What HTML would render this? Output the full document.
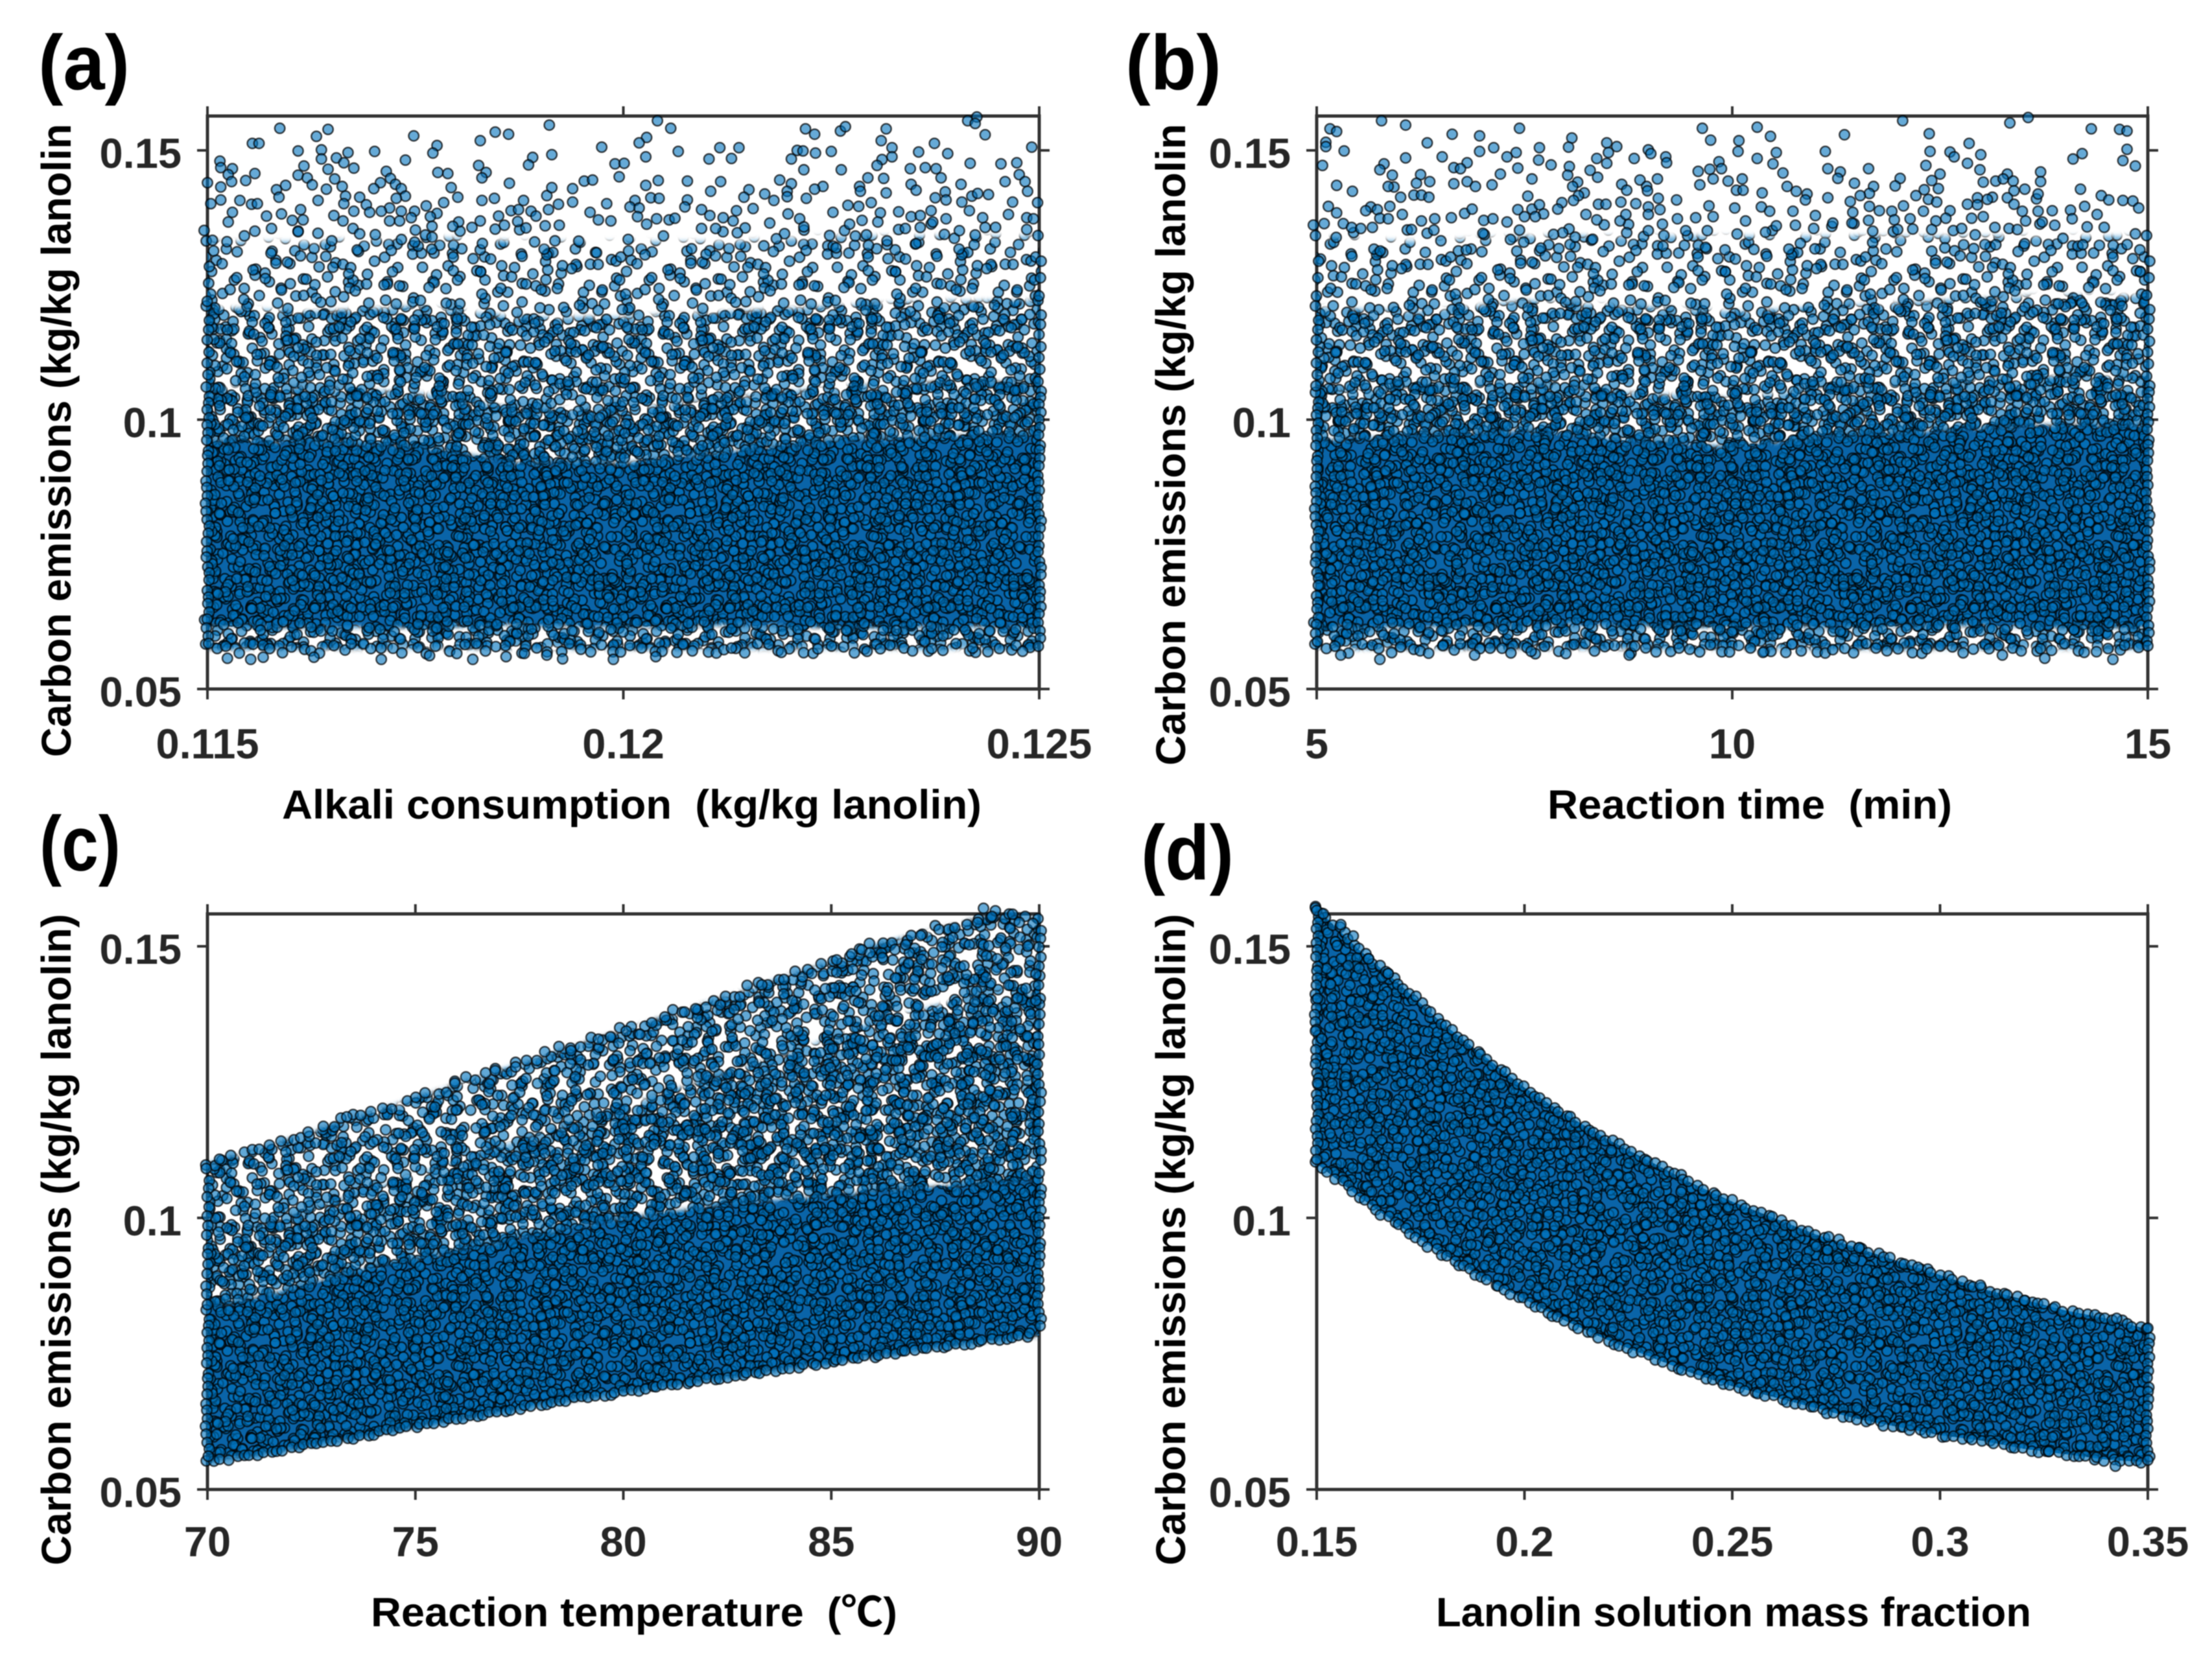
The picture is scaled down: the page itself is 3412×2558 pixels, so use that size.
<!DOCTYPE html>
<html lang="en">
<head>
<meta charset="utf-8">
<title>Carbon emissions sensitivity scatter plots</title>
<style>
html,body{margin:0;padding:0;background:#fff;width:3412px;height:2558px;overflow:hidden}
svg{display:block;filter:blur(0.9px)}
text{font-family:"Liberation Sans","Noto Sans CJK SC",sans-serif;font-weight:700}
</style>
</head>
<body>
<svg id="figure" xmlns="http://www.w3.org/2000/svg" width="3412" height="2558" viewBox="0 0 3412 2558">
<rect width="3412" height="2558" fill="#fff"/>
<defs id="defs">
<filter id="feather" x="-5%" y="-30%" width="110%" height="160%"><feGaussianBlur stdDeviation="4"/></filter>
</defs>
<g id="plots"></g>
</svg>
<script>
// Tick values and labels
const emissionTicks = [50, 100, 150];
const emissionTickLabels = ['0.05', '0.1', '0.15'];
const alkaliTicks = [115, 120, 125];
const alkaliTickLabels = ['0.115', '0.12', '0.125'];
const timeTicks = [5, 10, 15];
const timeTickLabels = ['5', '10', '15'];
const temperatureTicks = [70, 75, 80, 85, 90];
const temperatureTickLabels = ['70', '75', '80', '85', '90'];
const fractionTicks = [0.15, 0.2, 0.25, 0.3, 0.35];
const fractionTickLabels = ['0.15', '0.2', '0.25', '0.3', '0.35'];

// Density envelopes (y in g/kg lanolin)
const alkaliSamples = [115, 116.25, 117.5, 118.75, 120, 121.25, 122.5, 123.75, 125];
const alkaliFloor = [57.5, 57.5, 57.5, 57.5, 57.5, 57.5, 57.5, 57.5, 57.5];
const alkaliLower = [62, 61.5, 61.5, 62, 61.5, 62, 61.5, 61.5, 61.5];
const alkaliDenseTop = [96, 96, 95, 92, 92, 94, 96, 97, 97];
const alkaliHeavyTop = [106, 106, 105, 102, 102, 104, 106, 107, 107];
const alkaliMidTop = [121, 120, 121, 119, 119, 120, 121, 122, 122];
const alkaliSparseTop = [133, 133, 134, 133, 133, 133, 134, 134, 134];

const timeSamples = [5, 6.25, 7.5, 8.75, 10, 11.25, 12.5, 13.75, 15];
const timeFloor = [57.5, 57.5, 57.5, 57.5, 57.5, 57.5, 57.5, 57.5, 57.5];
const timeLower = [61.5, 61.5, 62, 62, 61.5, 61.5, 62, 61.5, 61.5];
const timeDenseTop = [96, 97, 98, 96, 95, 97, 98, 99, 99];
const timeHeavyTop = [105, 106, 107, 105, 104, 106, 107, 108, 108];
const timeMidTop = [121, 120, 122, 121, 120, 121, 122, 123, 123];
const timeSparseTop = [134, 133, 134, 134, 134, 134, 134, 134, 134];

const temperatureSamples = [70, 71, 72, 73, 74, 75, 76, 77, 78, 79, 80, 81, 82, 83, 84, 85, 86, 87, 88, 89, 90];
const temperatureLower = [55, 56.3, 57.6, 58.9, 60.3, 61.7, 63, 64.3, 65.7, 66.9, 68, 69.1, 70.2, 71.3, 72.4, 73.5, 74.6, 75.7, 76.7, 77.7, 78.7];
const temperatureDenseTop = [83, 85, 87, 89, 91, 92.5, 94, 95.5, 97, 98.5, 100, 101, 102, 103, 103.5, 104, 105, 105.5, 106, 106.5, 107];
const temperatureHeavyTop = [95, 98, 100.5, 103, 105.5, 108, 110.5, 113, 115.5, 118, 120.5, 123, 125.5, 128, 130.5, 133, 136, 138, 140, 142, 141];
const temperatureUpper = [109, 112, 114.5, 117, 119.5, 122, 124.5, 127, 129.5, 132, 134.5, 137, 139.5, 142, 144.5, 147, 150, 152, 154, 156, 155];

const fractionSamples = [0.15, 0.16, 0.17, 0.18, 0.19, 0.2, 0.21, 0.22, 0.23, 0.24, 0.25, 0.26, 0.27, 0.28, 0.29, 0.3, 0.31, 0.32, 0.33, 0.34, 0.35];
const fractionLower = [110, 104, 98.5, 93.5, 89, 85, 81, 77.5, 74.5, 71.5, 69, 67, 65, 63, 61.5, 60, 59, 57.5, 56.5, 55.5, 55];
const fractionUpper = [157, 149.5, 143, 136, 130, 124, 119, 114.5, 110.5, 106.5, 103, 100, 97, 94.5, 92, 89.5, 87, 85, 83, 81.5, 79.5];

// Individually legible points: [x, y in g/kg lanolin]
const alkaliPoints = [
[115.87,154.1],[116.45,153.9],[116.31,152.6],[115.54,151.3],[115.62,151.3],[116.09,149.9],[116.37,150.1],[116.37,148.4],[116.55,148.6],[116.69,149.6],
[117.01,149.8],[117.48,152.7],[117.76,150.9],[117.71,149.5],[117.38,148.2],[118.28,151.8],[118.46,153.4],[118.62,153],[119.11,154.7],[119.74,150.6],
[119.14,149.2],[118.91,148.7],[118.86,147.3],[118.26,147.2],[118.35,145.9],[118.3,144.9],[118.63,143.9],[117.77,145.9],[117.89,145.7],[117.15,146.1],
[115.15,148],[115.16,146.8],[115.3,146.6],[115.25,145.5],[115.57,145.7],[115.46,144.4],[115.29,144.2],[115,144],[115.16,143.2],[116.16,147.1],
[116.09,145.4],[116.2,144.9],[116.26,143.6],[115.94,143.5],[115.83,142.7],[115.86,141.3],[116.45,146.5],[116.53,144.7],[116.62,143.3],[116.43,142.8],
[116.64,147.7],[116.76,146.7],[117.08,144],[117,142.9],[117.2,144.8],[117.26,143.7],[117.33,142.9],[117.38,141.5],[117.27,141.1],[116.83,141.3],
[116.91,139.9],[116.66,141.5],[116.64,140.1],[116.33,140.7],[115.39,140.7],[115.16,140.8],[115.04,140.1],[115.53,140],[115.6,140.1],[115.3,138.5],
[115.25,136.7],[115.71,137.8],[115.89,138.2],[116.12,139],[116.02,137],[116.15,137.1],[115.57,135],[115.77,135.5],[116.09,134.9],[115.06,133.3],
[117.93,143.1],[118.01,141.3],[117.84,140.3],[117.63,139.7],[118.3,140.7],[118.45,141.1],[118.8,140.7],[119.08,141.6],[119.14,143.1],[119.39,142.9],
[119.53,144.3],[119.63,144.5],[119.39,140.4],[119.22,140],[119.1,139],[118.65,138.8],[118.74,139],[118.89,138.7],[118.95,137.8],[118.5,137.8],
[118.28,136.9],[118.02,136.7],[117.95,135.9],[118.18,135.7],[119.06,136],[118.73,136.8],[118.57,136.1],[118.83,135.6],[119.23,136.1],[119.6,138.5],
[119.8,140.1],[119.7,137.1],[119.85,136.9],[119.9,147.5],[119.95,145.1],[117.19,139.3],[117.33,138.7],[117.49,138.7],[117.09,138.7],[116.95,138.5],
[117.19,136.9],[117.31,136.9],[117.45,137.5],[116.76,138.7],[116.52,137.9],[116.63,136.9],[116.75,135.5],[116.83,134.5],[117.76,138.3],[117.68,137.7],
[117.7,135.9],[117.5,135.2],[117.62,134.3],[117.7,133.9],
[120.41,155.5],[120.57,154.1],[120.28,152.4],[120.19,151.4],[120.27,148.8],[120.66,149.8],[121.16,150.5],[121.39,150.5],[121.03,148.4],[121.3,148.5],
[120.01,147.6],[120.42,144.4],[120.27,143.5],[120.77,144.3],[121.17,144.2],[121.05,142.4],[120.33,141.2],[120.43,141.1],[120.77,140.8],[120.74,139.5],
[121.51,142.7],[121.45,141.3],[121.7,141.9],[121.81,140.7],[121.56,139.2],[120.94,139],[121.04,137.9],[120.14,140.7],[120.08,139.5],[120.19,139.3],
[120.17,137.7],[120.4,137.3],[120.55,137.1],[120.62,137.4],[121.2,137.5],[121.36,138.8],[121.32,136.9],[120.94,135.5],[121.11,135.5],[120.28,136.3],
[121.76,136.5],[122.19,154],[122.3,153],[122.61,153.6],[122.67,154.4],[123.16,154],[123.1,151.8],[123.23,150.5],[123.23,148.8],[123.11,148.3],
[123.05,147.2],[124.14,155.5],[124.25,156.2],[124.23,155],[124.35,152.9],[123.74,151.3],[123.9,149.4],[123.55,149.7],[124.91,150.6],[124.17,147.6],
[124.54,147.5],[124.73,147.7],[124.76,145.5],[124.83,144.2],[124.86,142.4],[124.59,144.2],[124.06,143.7],[122.09,150],[122.16,149.9],[122.02,148.4],
[122.31,149.5],[122.5,149.8],[122.17,146.4],[122.62,146.4],[121.88,144.5],[122.02,143.8],[121.97,142.4],[121.97,141.4],[122.4,143.3],[122.3,142.8],
[122.2,141.1],[122.94,144.9],[122.84,143.3],[122.85,142.4],[123.13,144.8],[123.16,142.1],[122.98,140.3],[122.7,139.8],[122.83,139.6],[123.45,146.6],
[123.63,146.8],[123.76,146.6],[123.82,144.9],[123.46,143.7],[123.52,142.6],[123.75,141.2],[123.87,142.3],[123.88,140.8],[124.07,140.4],[124.19,141.5],
[124.26,142],[124.39,141.8],[124.68,140.4],[124.98,140.3],[124.16,138.8],[123.7,138.8],[123.46,137.7],[123.57,137.9],[123.31,138.6],[123.09,138.4],
[122.52,138.5],[121.98,138.2],[122.12,137.3],[122.17,135.8],[122.72,136.3],[122.87,137],[123.06,136.7],[123.72,136.7],[123.88,137.3],[123.57,135.7],
[124.04,135.1],[124.32,137.5],[124.63,138.1],[124.85,137.5],[124.93,137.3],[124.35,135.7],[124.23,134.3],[123.86,134.4],[123.31,135.3],[123.39,135.5],
[122.79,134.1],[123.17,133.2],[122.48,134.2],[121.84,133.6],[121.37,134.7],[124.85,135.3],
[115.24,55.7],[115.52,55.5],[115.67,55.9],[116.28,55.9],[117.09,55.5],[117.67,56.2],[118.19,55.5],[118.59,56],[118.81,56.6],[119.08,56.3],
[119.27,55.6],[119.88,55.5],[120.39,56],[121.9,56.8],[122.93,57],[124.2,57.6],[124.8,57],[121.3,57.6]
];
const timePoints = [
[5.78,155.5],[6.07,154.7],[5.16,154],[5.24,153.5],[5.11,151.5],[5.11,150.7],[5.33,149.9],[5.07,147.2],[6.33,151.4],[6.63,153],
[6.96,152.7],[7.44,154.1],[8.07,152.3],[8.03,150.6],[6.96,149.8],[7.13,150.5],[7.68,150.5],[7.4,149.6],[7.29,148.8],[7.67,148.2],
[7.82,147.3],[6.51,148.8],[6.07,148.6],[5.81,147.5],[5.76,146.4],[5.91,145.4],[6.81,147.7],[6.65,146.8],[6.73,146.6],[7.42,146.7],
[7.21,145.6],[7.59,144.7],[8.04,147],[8.02,145.4],[8.49,151.4],[8.61,150.7],[8.51,149.6],[8.49,147.6],[8.37,148.5],[8.29,146.3],
[8.38,145],[8.82,148.5],[8.99,150.1],[9.02,149.4],[9.2,148.8],[9.21,147.7],[9.64,154.1],[9.74,151.9],[9.84,147.9],[9.73,146.5],
[9.87,146.6],[9.59,146.1],[9.77,144.7],[9.61,143.6],[9.95,144.3],[5.24,143.5],[5.43,142.4],[6.25,145.5],[6.36,144.2],[6.2,143.9],
[5.93,143.2],[5.86,143.3],[6.01,141.3],[6.17,141.7],[6.26,141.7],[6.35,141.3],[6.65,143.8],[6.81,144.2],[6.91,143.3],[7.11,143.6],
[7.54,141.5],[8.14,144.1],[8.08,143.3],[8.22,142.1],[8.15,141.6],[8.09,140.7],[7.95,140.3],[7.9,139.1],[8.67,143.7],[8.73,142.6],
[8.89,144.5],[9.1,144.7],[8.97,143.3],[8.98,142.5],[9.11,141.1],[9.33,140.8],[5.14,139.6],[5.24,138.4],[5.09,136.4],[5.32,136.4],
[5.65,139.5],[5.59,138.8],[5.73,139],[5.88,139.6],[6.03,138.1],[5.76,137.4],[5.86,137.3],[6.42,137.3],[6.26,136.9],[6.41,135.2],
[6.14,135.3],[5.42,135.7],[5.53,135.5],[5.67,135.7],[6.62,137.5],[6.78,138.3],[6.87,139.1],[7.01,137],[7.12,137.3],[7.29,136.7],
[7.44,135.2],[7,134.6],[7.42,139],[7.5,137.7],[7.59,139.1],[7.68,139.9],[7.73,138.2],[7.63,137.7],[8.24,138.1],[8.39,140],
[8.48,140],[8.66,140.4],[8.84,140.1],[8.37,137.1],[8.65,136.9],[8.72,138.1],[8.99,139.5],[9.13,139],[8.99,138.1],[9.34,137.3],
[9.56,137.5],[9.72,139.7],[9.77,137.7],[9.16,136.3],[8.99,135.1],[9.44,135.1],[9.7,135.1],[7.96,134.7],[7.85,134.4],[8.11,133.9],
[8.32,133.5],[8.73,134.7],
[10.3,154.3],[10.46,152.6],[10.08,151.8],[10.07,149.8],[10.53,149.6],[10.3,148.5],[10.49,147.5],[10.61,145.8],[12.05,155.5],[11.35,152.9],
[11.12,149.8],[11.15,146.6],[11.3,146],[11.27,144.8],[11.64,146.6],[11.47,143.9],[12.02,144.8],[11.96,143.4],[11.7,143.3],[11.65,142],
[11.54,141.6],[11.15,141.2],[10.66,143.3],[10.77,142.4],[10.9,141.9],[10.88,140.8],[10.36,142.1],[10.12,144.7],[10.05,142.6],[10.13,142.6],
[12.37,153.1],[12.38,149.8],[12.33,147.2],[12.5,145.6],[12.4,144.4],[12.48,142.9],[12.31,142.7],[12.21,141.6],[12.36,140.9],[12.46,140.4],
[12.85,151.3],[12.99,149.2],[12.62,149.7],[12.67,148.8],[12.83,147.6],[12.98,146.4],[13.02,144.1],[13.17,144.3],[13.31,145.6],[13.26,144.7],
[13.38,144.3],[13.39,142.5],[13.52,142.8],[13.71,146],[13.71,144.2],[13.34,155.1],[13.56,156.1],[14.32,154],[14.66,153.9],[14.75,153.6],
[14.75,150.2],[14.21,149.4],[14.1,148.4],[14.7,148.1],[14.85,147.1],[14.19,142.8],[14.44,141.6],[14.53,140.8],[14.7,140.7],[14.82,140.6],
[14.89,139.3],[13.66,141],[13.68,141.9],[13.31,141.2],[13.39,140],[13.13,141.3],[12.95,141.2],[12.83,140],[12.95,139.9],[13.07,140.9],
[12.06,139.7],[11.65,139.6],[11.77,138.8],[11.92,138.7],[11.42,140.5],[11.45,138.5],[10.73,138.7],[10.35,139.5],[10.45,138.7],[10.03,139.3],
[10.16,136.9],[10.53,136],[10.76,136.1],[11,137.9],[11.21,136.5],[11.44,136.5],[11.64,137],[11.95,137.1],[12.14,137.3],[12.3,138.7],
[12.45,136.9],[12.62,138.8],[12.57,137.4],[12.88,137.4],[13.02,137.7],[13.49,138.7],[13.53,136.9],[13.68,138.7],[13.85,138.8],[13.73,136.7],
[13.88,136.1],[14.07,138.9],[14.24,139.6],[14.09,137.3],[14.39,138.1],[14.27,135.8],[13.16,135.7],[13.33,135.5],[13.43,135.3],[12.76,135.5],
[12.4,135.3],[11.99,135.3],[11.69,135],[10.98,135.5],[10.4,134.8],[14.85,134.5],
[5.29,56.3],[5.76,55.5],[6.9,56.3],[7.58,57],[8.76,56.3],[9.36,57.6],[10.37,56.8],[11.73,57.6],[13.25,56.3],[13.76,55.7],[14.58,55.5],[15,58]
];
const temperaturePoints = [
[88.66,157],[88.86,155.5],[88.52,154.4],[89.36,155.9],[89.85,154.2],[89.52,154.4],[89.3,153.3],[87.59,153.1],[87.15,152],[87.92,151.6],
[86.79,150.3],[86.53,149.4],[85.93,148.8],[85.49,148.6],[85.13,147.5],[86.23,147.9],[88.32,150.3],[88.79,150.1],[89.19,149.7],[89.79,147.3],
[89.92,144.9],[84.13,145.4],[84.53,145],[83.86,143.9],[83.33,142.9],[85.13,145.2],[85.73,144.7],[82.8,140.7],[82.33,139.2],[81.74,138.5],
[81.47,137.9],[81,137],[80.07,134.4],[80.4,133.8],[79.4,132.9],[78.74,130.8],[78.11,130.6],[77.41,127.8],[76.92,127.1],[75.95,124.8],
[75.01,122.2],[73.35,118.6],[72.42,115.8],[71.49,113.4],[70.56,111.5],[70.29,110.8],[83.27,139.6],[84.06,140],[84.86,142.2],[86.86,146.9],
[87.66,149.9],[88.19,146.4],[88.99,147.7],[88.72,144.3],[87.66,146],[87,143.9],[86.33,141.7],[89.92,140]
];
const fractionPoints = [
[0.15,156.6],[0.1516,156],[0.1558,154],[0.1588,151.9],[0.1625,147.7],[0.1672,145],[0.1739,140.8],[0.1502,140.4],[0.1497,134.4],[0.1512,133],
[0.1502,124.8],[0.293,61.8],[0.2568,69.7],[0.3422,54.3],[0.3262,57],[0.3097,87.6],[0.35,79.7],[0.35,55.4],[0.3425,81.5],[0.3203,84.8],
[0.2947,90.9],[0.2805,94.5]
];

const NS = 'http://www.w3.org/2000/svg';
const DOT_R = 7.8;
const TILE = 640;
const frac = v => v - Math.floor(v);
const wobble = n => frac(Math.sin(n * 12.9898) * 43758.5453) - 0.5;

function make(tag, attrs, parent) {
  const el = document.createElementNS(NS, tag);
  for (const k in attrs) el.setAttribute(k, attrs[k]);
  parent.appendChild(el);
  return el;
}

// Fill textures for the regions where overlapping markers can no longer be told apart.
// Ranges do not overlap, so stacked textures add density instead of repeating dots.
function makeTexture(id, start, end, base) {
  const defs = document.getElementById('defs');
  const pattern = make('pattern', {id: id, width: TILE, height: TILE, patternUnits: 'userSpaceOnUse'}, defs);
  
  
  if (base) {
    const bg = make('rect', {width: TILE, height: TILE, fill: base}, pattern);
    
    
  }
  for (let i = start; i < end; i++) {
    const cx = frac(i * 0.75487766 + wobble(i + 1) * 0.05) * TILE;
    const cy = frac(i * 0.56984029 + wobble(i + 7001) * 0.05) * TILE;
    for (const dx of [-TILE, 0, TILE]) {
      for (const dy of [-TILE, 0, TILE]) {
        const px = cx + dx, py = cy + dy;
        if (px < -10 || px > TILE + 10 || py < -10 || py > TILE + 10) continue;
        const dot = make('circle', {cx: px, cy: py, r: DOT_R, fill: '#0072bd', 'fill-opacity': 0.62, stroke: '#000', 'stroke-opacity': 0.72, 'stroke-width': 2.4}, pattern);
        
        
      }
    }
  }
}
makeTexture('texture-light', 0, 1100, null);
makeTexture('texture-mid', 1100, 2500, null);
makeTexture('texture-heavy', 2500, 3800, null);
makeTexture('texture-dense', 3800, 7000, '#0a64a8');

let maskCounter = 0;

function drawPanel(p) {
  const root = document.getElementById('plots');
  const g = make('g', {}, root);
  
  

  const sx = v => p.x0 + (v - p.xMin) / (p.xMax - p.xMin) * (p.x1 - p.x0);
  const sy = v => p.y0 - (v - 50) / 50 * (p.y0 - p.y100);

  // Axes box
  const box = make('rect', {x: p.x0, y: p.yTop, width: p.x1 - p.x0, height: p.y0 - p.yTop, fill: 'none', stroke: '#333', 'stroke-width': 5}, g);
  
  

  p.xTicks.forEach((v, i) => {
    const x = sx(v);
    const tickB = make('line', {x1: x, x2: x, y1: p.y0, y2: p.y0 + 16, stroke: '#333', 'stroke-width': 4}, g);
    
    
    const tickT = make('line', {x1: x, x2: x, y1: p.yTop, y2: p.yTop - 15, stroke: '#333', 'stroke-width': 4}, g);
    
    
    const lab = make('text', {x: x, y: p.y0 + p.tickLabelGap, 'text-anchor': 'middle', 'font-size': 65, fill: '#262626'}, g);
    
    
    lab.textContent = p.xLabels[i];
  });
  emissionTicks.forEach((v, i) => {
    const y = sy(v);
    const tickL = make('line', {x1: p.x0 - 16, x2: p.x0, y1: y, y2: y, stroke: '#333', 'stroke-width': 4}, g);
    
    
    const tickR = make('line', {x1: p.x1, x2: p.x1 + 16, y1: y, y2: y, stroke: '#333', 'stroke-width': 4}, g);
    
    
    const lab = make('text', {x: p.x0 - 40, y: y + 27, 'text-anchor': 'end', 'font-size': 65, fill: '#262626'}, g);
    
    
    lab.textContent = emissionTickLabels[i];
  });

  const marks = make('g', {}, g);
  
  

  function polygonPoints(lower, upper, pad) {
    const last = p.samples.length - 1;
    const px = i => sx(p.samples[i]) + (i === 0 ? -pad : i === last ? pad : 0);
    const pts = [];
    for (let i = 0; i <= last; i++) pts.push(px(i) + ',' + sy(upper[i]));
    for (let i = last; i >= 0; i--) pts.push(px(i) + ',' + sy(lower[i]));
    return pts.join(' ');
  }
  function band(layer) {
    if (!layer.soft) {
      const poly = make('polygon', {points: polygonPoints(layer.lower, layer.upper, 0), fill: 'url(#' + layer.texture + ')'}, marks);
      
      
      return;
    }
    // Soft-edged band: density fades out rather than stopping on a ruled line
    maskCounter++;
    const maskId = 'band-mask-' + maskCounter;
    const mask = make('mask', {id: maskId, maskUnits: 'userSpaceOnUse', x: p.x0 - 10, y: p.yTop - 30, width: p.x1 - p.x0 + 20, height: p.y0 - p.yTop + 60}, document.getElementById('defs'));
    
    
    const shape = make('polygon', {points: polygonPoints(layer.lower, layer.upper, 30), fill: '#fff', filter: 'url(#feather)'}, mask);
    
    
    const fillRect = make('rect', {x: p.x0, y: p.yTop - 30, width: p.x1 - p.x0, height: p.y0 - p.yTop + 60, fill: 'url(#' + layer.texture + ')', mask: 'url(#' + maskId + ')'}, marks);
    
    
  }
  function bead(x, y) {
    const c = make('circle', {cx: x, cy: y, r: DOT_R, fill: '#0072bd', 'fill-opacity': 0.62, stroke: '#000', 'stroke-opacity': 0.72, 'stroke-width': 2.4}, marks);
    
    
  }
  function edge(e) {
    let k = 0;
    for (let i = 0; i < p.samples.length - 1; i++) {
      const ax = sx(p.samples[i]), bx = sx(p.samples[i + 1]);
      const ay = sy(e.values[i]), by = sy(e.values[i + 1]);
      const len = Math.hypot(bx - ax, by - ay);
      const n = Math.max(1, Math.round(len / e.spacing));
      for (let j = 0; j < n; j++) {
        const t = j / n;
        k++;
        bead(ax + (bx - ax) * t + wobble(k + 31) * e.spacing * 0.8, ay + (by - ay) * t + wobble(k + 97) * e.jitter);
      }
    }
  }
  function sides(s) {
    const last = p.samples.length - 1;
    [[0, p.x0], [last, p.x1]].forEach(side => {
      const top = sy(s.upper[side[0]]), bot = sy(s.lower[side[0]]);
      let k = 0;
      for (let y = top; y <= bot; y += s.spacing) {
        k++;
        bead(side[1] + wobble(k + 11) * 6, y + wobble(k + 53) * s.spacing * 0.5);
      }
    });
  }

  p.layers.forEach(band);
  p.edges.forEach(edge);
  p.sideRuns.forEach(sides);

  // Individually read points
  p.points.forEach(pt => {
    const c = make('circle', {cx: sx(pt[0]), cy: sy(pt[1]), r: DOT_R, fill: '#0072bd', 'fill-opacity': 0.6, stroke: '#000', 'stroke-opacity': 0.72, 'stroke-width': 2.4}, marks);
    
    
  });

  // Labels
  const letter = make('text', {x: p.tagX, y: p.tagY, 'font-size': 120, textLength: p.tagW, lengthAdjust: 'spacingAndGlyphs', fill: '#000'}, g);
  
  
  letter.textContent = '(' + p.key + ')';

  const xt = make('text', {x: p.xTitleX, y: p.xTitleY, 'font-size': 63, textLength: p.xTitleW, lengthAdjust: 'spacingAndGlyphs', fill: '#000'}, g);
  
  
  xt.style.whiteSpace = 'pre';
  xt.textContent = p.xTitle;

  const yt = make('text', {transform: 'translate(' + p.yTitleX + ',' + p.yTitleY + ') rotate(-90)', 'font-size': 64, textLength: p.yTitleW, lengthAdjust: 'spacingAndGlyphs', fill: '#000'}, g);
  
  
  yt.textContent = p.yTitle;
}

drawPanel({
  key: 'a', x0: 320, x1: 1603, yTop: 179, y0: 1063, y100: 647.5, xMin: 115, xMax: 125, tickLabelGap: 107,
  xTicks: alkaliTicks, xLabels: alkaliTickLabels, samples: alkaliSamples, points: alkaliPoints,
  layers: [
    {name: 'sparse-density-band', texture: 'texture-light', lower: alkaliFloor, upper: alkaliSparseTop, soft: true},
    {name: 'mid-density-band', texture: 'texture-mid', lower: alkaliFloor, upper: alkaliMidTop, soft: true},
    {name: 'heavy-density-band', texture: 'texture-heavy', lower: alkaliLower, upper: alkaliHeavyTop, soft: true},
    {name: 'dense-band', texture: 'texture-dense', lower: alkaliLower, upper: alkaliDenseTop, soft: true}
  ],
  edges: [
    {values: alkaliSparseTop, spacing: 30, jitter: 40},
    {values: alkaliFloor, spacing: 16, jitter: 16},
    {values: alkaliLower, spacing: 26, jitter: 16}
  ],
  sideRuns: [
    {lower: alkaliFloor, upper: alkaliHeavyTop, spacing: 12},
    {lower: alkaliHeavyTop, upper: alkaliMidTop, spacing: 18},
    {lower: alkaliMidTop, upper: alkaliSparseTop, spacing: 32}
  ],
  tagX: 59, tagY: 138, tagW: 141,
  xTitle: 'Alkali consumption  (kg/kg lanolin)', xTitleX: 435, xTitleY: 1263, xTitleW: 1079,
  yTitle: 'Carbon emissions (kg/kg lanolin', yTitleX: 109, yTitleY: 1168, yTitleW: 977
});
drawPanel({
  key: 'b', x0: 2031, x1: 3313, yTop: 179, y0: 1063, y100: 647.5, xMin: 5, xMax: 15, tickLabelGap: 107,
  xTicks: timeTicks, xLabels: timeTickLabels, samples: timeSamples, points: timePoints,
  layers: [
    {name: 'sparse-density-band', texture: 'texture-light', lower: timeFloor, upper: timeSparseTop, soft: true},
    {name: 'mid-density-band', texture: 'texture-mid', lower: timeFloor, upper: timeMidTop, soft: true},
    {name: 'heavy-density-band', texture: 'texture-heavy', lower: timeLower, upper: timeHeavyTop, soft: true},
    {name: 'dense-band', texture: 'texture-dense', lower: timeLower, upper: timeDenseTop, soft: true}
  ],
  edges: [
    {values: timeSparseTop, spacing: 30, jitter: 40},
    {values: timeFloor, spacing: 16, jitter: 16},
    {values: timeLower, spacing: 26, jitter: 16}
  ],
  sideRuns: [
    {lower: timeFloor, upper: timeHeavyTop, spacing: 12},
    {lower: timeHeavyTop, upper: timeMidTop, spacing: 18},
    {lower: timeMidTop, upper: timeSparseTop, spacing: 32}
  ],
  tagX: 1736, tagY: 138, tagW: 148,
  xTitle: 'Reaction time  (min)', xTitleX: 2387, xTitleY: 1263, xTitleW: 624,
  yTitle: 'Carbon emissions (kg/kg lanolin', yTitleX: 1828, yTitleY: 1181, yTitleW: 990
});
drawPanel({
  key: 'c', x0: 320, x1: 1603, yTop: 1410, y0: 2298, y100: 1879, xMin: 70, xMax: 90, tickLabelGap: 103,
  xTicks: temperatureTicks, xLabels: temperatureTickLabels, samples: temperatureSamples, points: temperaturePoints,
  layers: [
    {name: 'sparse-density-band', texture: 'texture-light', lower: temperatureLower, upper: temperatureUpper, soft: true},
    {name: 'mid-density-band', texture: 'texture-mid', lower: temperatureLower, upper: temperatureUpper, soft: true},
    {name: 'heavy-density-band', texture: 'texture-heavy', lower: temperatureLower, upper: temperatureHeavyTop, soft: true},
    {name: 'dense-band', texture: 'texture-dense', lower: temperatureLower, upper: temperatureDenseTop, soft: true}
  ],
  edges: [
    {values: temperatureUpper, spacing: 15, jitter: 14},
    {values: temperatureLower, spacing: 11, jitter: 5}
  ],
  sideRuns: [
    {lower: temperatureLower, upper: temperatureDenseTop, spacing: 12},
    {lower: temperatureDenseTop, upper: temperatureUpper, spacing: 15}
  ],
  tagX: 61, tagY: 1343, tagW: 125,
  xTitle: 'Reaction temperature  (℃)', xTitleX: 572, xTitleY: 2509, xTitleW: 812,
  yTitle: 'Carbon emissions (kg/kg lanolin)', yTitleX: 109, yTitleY: 2415, yTitleW: 1005
});
drawPanel({
  key: 'd', x0: 2031, x1: 3313, yTop: 1410, y0: 2298, y100: 1879, xMin: 0.15, xMax: 0.35, tickLabelGap: 103,
  xTicks: fractionTicks, xLabels: fractionTickLabels, samples: fractionSamples, points: fractionPoints,
  layers: [
    {name: 'dense-band', texture: 'texture-dense', lower: fractionLower, upper: fractionUpper}
  ],
  edges: [
    {values: fractionUpper, spacing: 11, jitter: 6},
    {values: fractionLower, spacing: 11, jitter: 6}
  ],
  sideRuns: [
    {lower: fractionLower, upper: fractionUpper, spacing: 11}
  ],
  tagX: 1760, tagY: 1357, tagW: 143,
  xTitle: 'Lanolin solution mass fraction', xTitleX: 2215, xTitleY: 2509, xTitleW: 918,
  yTitle: 'Carbon emissions (kg/kg lanolin)', yTitleX: 1828, yTitleY: 2415, yTitleW: 1005
});
</script>
</body>
</html>
